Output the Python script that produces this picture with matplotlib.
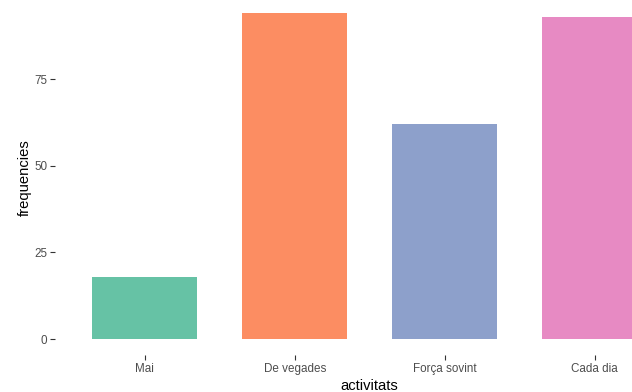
import matplotlib
matplotlib.use("Agg")
import matplotlib.pyplot as plt

categories = ["Mai", "De vegades", "Força sovint", "Cada dia"]
values = [18, 94, 62, 93]
colors = ["#66C2A5", "#FC8D62", "#8DA0CB", "#E78AC3"]
yticks = [0, 25, 50, 75]

plt.rcParams['font.family'] = ['Liberation Sans', 'DejaVu Sans']

W, H = 632, 392
fig = plt.figure(figsize=(W / 100, H / 100), dpi=100)
left_px, right_px = 54.7, 684.7
bottom_px, top_px = 355.3, 0.0
ax = fig.add_axes([left_px / W, (H - bottom_px) / H,
                   (right_px - left_px) / W, (bottom_px - top_px) / H])

x = list(range(len(categories)))
ax.bar(x, values, width=0.7, color=colors, edgecolor='none')
ax.set_xlim(-0.6, len(categories) - 0.4)
ax.set_ylim(-4.7, 97.8)
ax.set_xticks(x)
ax.set_xticklabels(categories)
ax.set_yticks(yticks)
ax.set_yticklabels([str(t) for t in yticks])

for s in ax.spines.values():
    s.set_visible(False)
ax.set_facecolor('white')
ax.tick_params(axis='both', which='major', length=3.5, width=0.8, color='#333333',
               labelcolor='#4D4D4D', labelsize=8.4, pad=2)
ax.set_xlabel("activitats", fontsize=10.6, color='black', labelpad=3)
ax.set_ylabel("frequencies", fontsize=10.6, color='black', labelpad=1.5)

fig.savefig("out.png", dpi=100)
